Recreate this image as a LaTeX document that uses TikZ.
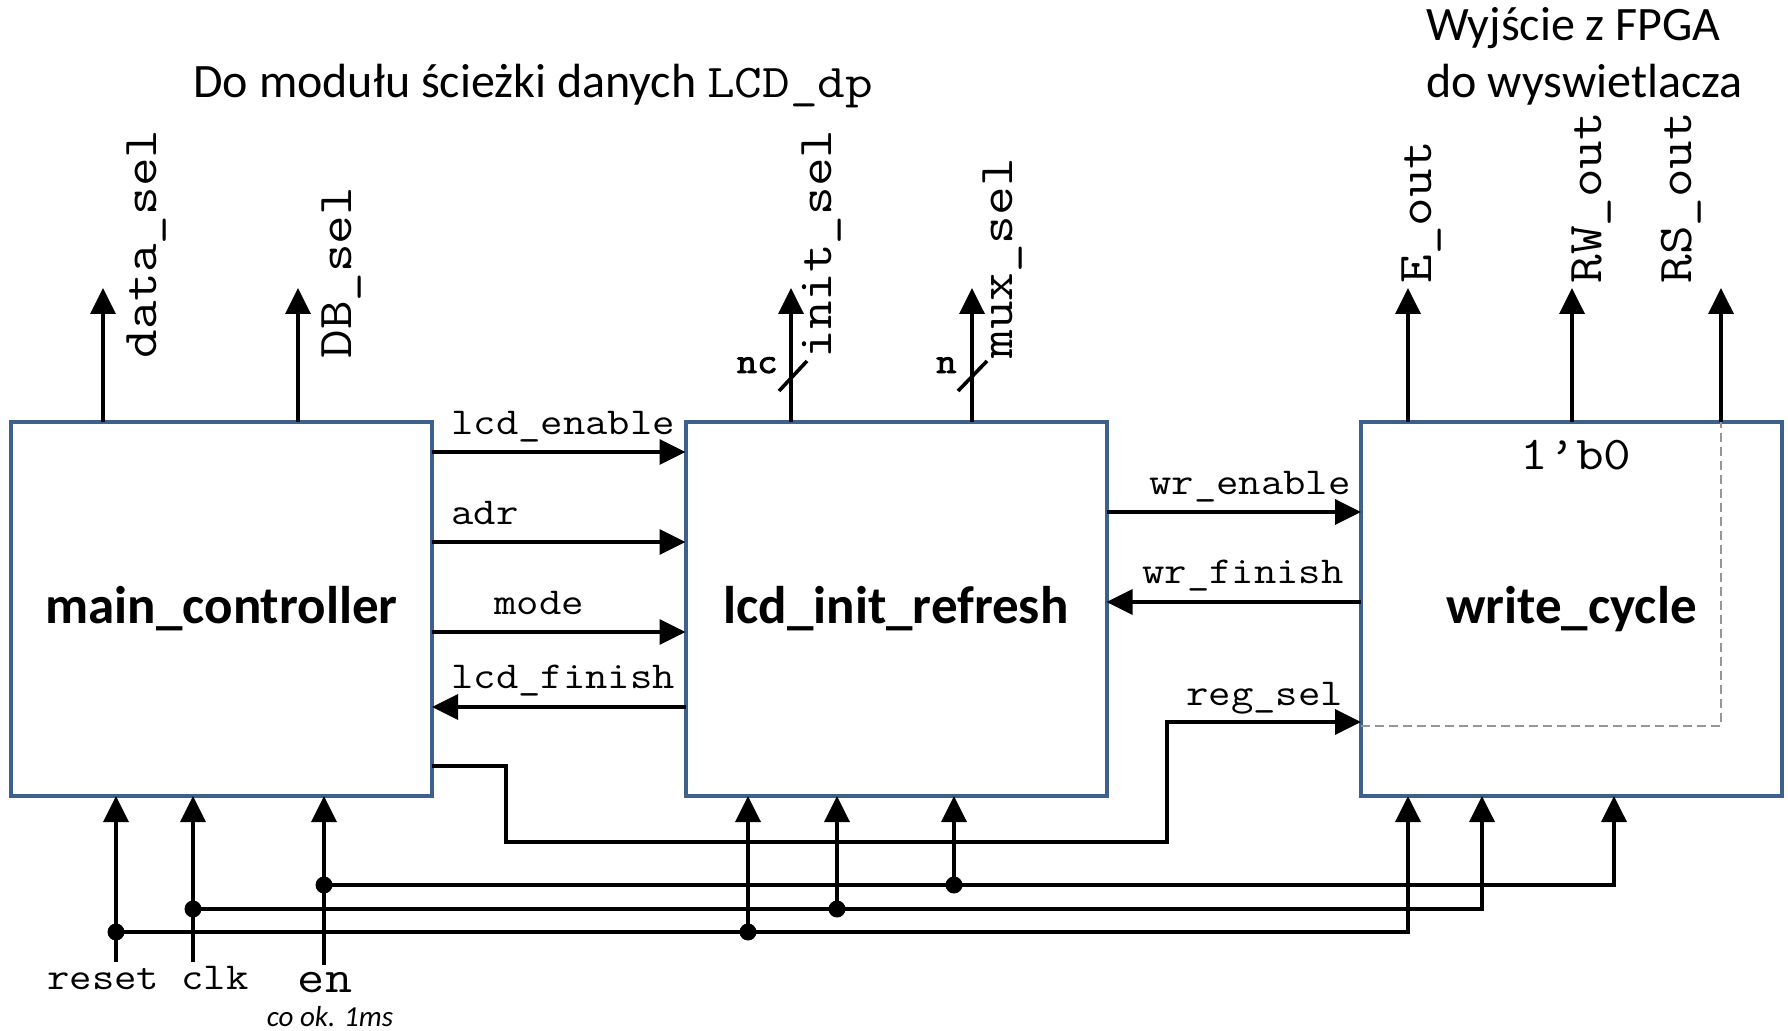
\documentclass[tikz,border=0pt]{standalone}
\usepackage{fontspec}
\setmainfont{Carlito}
\newfontfamily\mono[FakeStretch=1.143]{Latin Modern Mono}
\newfontfamily\monob[FakeStretch=1.1,FakeBold=2.5]{Latin Modern Mono}
\usetikzlibrary{arrows.meta}
\definecolor{boxblue}{RGB}{62,96,140}
\definecolor{dashgrey}{RGB}{150,150,150}
\begin{document}
\begin{tikzpicture}[x=0.5pt,y=-0.5pt,
  blk/.style={draw=boxblue, line width=2pt, minimum width=210.5pt, minimum height=187pt,
    inner sep=0, outer sep=0, font=\fontsize{26.5pt}{30pt}\selectfont\bfseries},
  wire/.style={line width=1.8pt},
  arr/.style={wire, -{Triangle[length=13pt,width=12.5pt]}},
  lbl/.style={inner sep=0, font=\mono\fontsize{19pt}{21pt}\selectfont},
  vlbl/.style={inner sep=0, rotate=90, anchor=base west, font=\mono\fontsize{24.3pt}{26pt}\selectfont},
  bus/.style={inner sep=0, font=\monob\fontsize{18pt}{20pt}\selectfont},
  ttl/.style={inner sep=0, anchor=base west, font=\fontsize{24pt}{28pt}\selectfont},
  dot/.style={circle, fill, inner sep=0, minimum size=8.5pt},
]
\useasboundingbox (0,0) rectangle (1788,1031);

% titles
\node[ttl] (title1) at (193,98) {Do modułu ścieżki danych {\mono\fontsize{23.5pt}{26pt}\selectfont LCD\_dp}};
\node[ttl] (title2) at (1426,41) {Wyjście z FPGA};
\node[ttl] (title3) at (1426,98) {do wyswietlacza};

% blocks
\node[blk] (mc) at (221.5,609) {main\_controller};
\node[blk] (lir) at (896,609) {lcd\_init\_refresh};
\node[blk] (wc) at (1571.5,609) {write\_cycle};

% dashed internal wire
\draw[dashgrey, line width=0.8pt, dash pattern=on 4.5pt off 2.5pt]
  (wc.west |- 0,726) -- (1721,726) -- (wc.north -| 1721,0);
\node[lbl, anchor=base, font=\mono\fontsize{23.5pt}{26pt}\selectfont] (b0) at (1576,470) {1’b0};

% outputs upward
\coordinate (oData) at (103,288);
\coordinate (oDB) at (298,288);
\coordinate (oInit) at (791,288);
\coordinate (oMux) at (972,288);
\coordinate (oE) at (1408,288);
\coordinate (oRW) at (1572,288);
\coordinate (oRS) at (1721,288);
\draw[arr] (mc.north -| oData) -- (oData);
\draw[arr] (mc.north -| oDB) -- (oDB);
\draw[arr] (lir.north -| oInit) -- (oInit);
\draw[arr] (lir.north -| oMux) -- (oMux);
\draw[arr] (wc.north -| oE) -- (oE);
\draw[arr] (wc.north -| oRW) -- (oRW);
\draw[arr] (wc.north -| oRS) -- (oRS);

\node[vlbl] (lData) at (156,359) {data\_sel};
\node[vlbl] (lDB) at (351,359) {DB\_sel};
\node[vlbl] (lInit) at (831,359) {init\_sel};
\node[vlbl] (lMux) at (1012,359) {mux\_sel};
\node[vlbl] (lE) at (1431,284) {E\_out};
\node[vlbl] (lRW) at (1601,284) {RW\_out};
\node[vlbl] (lRS) at (1691,284) {RS\_out};

% bus width marks
\draw[wire] (779,391) -- (807,361);
\draw[wire] (958,391) -- (987,361);
\node[bus, anchor=base east] (nc) at (778,373) {nc};
\node[bus, anchor=base east] (nn) at (957,373) {n};

% horizontal connections
\draw[arr] (mc.east |- 0,452) -- (lir.west |- 0,452);
\draw[arr] (mc.east |- 0,542) -- (lir.west |- 0,542);
\draw[arr] (mc.east |- 0,632) -- (lir.west |- 0,632);
\draw[arr] (lir.west |- 0,707) -- (mc.east |- 0,707);
\draw[arr] (lir.east |- 0,512) -- (wc.west |- 0,512);
\draw[arr] (wc.west |- 0,602) -- (lir.east |- 0,602);
\draw[arr] (mc.east |- 0,766) -- (506,766) -- (506,842) -- (1167,842) -- (1167,722) -- (wc.west |- 0,722);

\node[lbl, anchor=base west] (tLE) at (451,435) {lcd\_enable};
\node[lbl, anchor=base west] (tAdr) at (451,525) {adr};
\node[lbl, anchor=base west] (tMode) at (494,615) {mode};
\node[lbl, anchor=base west] (tLF) at (451,688) {lcd\_finish};
\node[lbl, anchor=base west] (tWE) at (1149,495) {wr\_enable};
\node[lbl, anchor=base west] (tWF) at (1142,583) {wr\_finish};
\node[lbl, anchor=base west] (tRS) at (1186,705) {reg\_sel};

% inputs
\coordinate (inR) at (116,962);
\coordinate (inC) at (193,962);
\coordinate (inE) at (324,965);
\node[dot] (dR) at (116,932) {};
\node[dot] (dC) at (193,909) {};
\node[dot] (dE) at (324,885) {};
\node[dot] (dR2) at (748,932) {};
\node[dot] (dC2) at (837,909) {};
\node[dot] (dE2) at (954,885) {};
\draw[arr] (inR) -- (mc.south -| inR);
\draw[arr] (inC) -- (mc.south -| inC);
\draw[arr] (inE) -- (mc.south -| inE);
\draw[arr] (dR.center) -- (1408,932) -- (wc.south -| 1408,0);
\draw[arr] (dC.center) -- (1482,909) -- (wc.south -| 1482,0);
\draw[arr] (dE.center) -- (1614,885) -- (wc.south -| 1614,0);
\draw[arr] (dR2.center) -- (lir.south -| dR2);
\draw[arr] (dC2.center) -- (lir.south -| dC2);
\draw[arr] (dE2.center) -- (lir.south -| dE2);

\node[lbl, anchor=base] (tRC) at (148,989) {reset clk};
\node[lbl, anchor=base, font=\mono\fontsize{23pt}{25pt}\selectfont] (tEn) at (325,992) {en};
\node[inner sep=0, anchor=base, font=\itshape\fontsize{14.5pt}{16pt}\selectfont] (tCo) at (330,1026) {co ok. 1ms};
\end{tikzpicture}
\end{document}
